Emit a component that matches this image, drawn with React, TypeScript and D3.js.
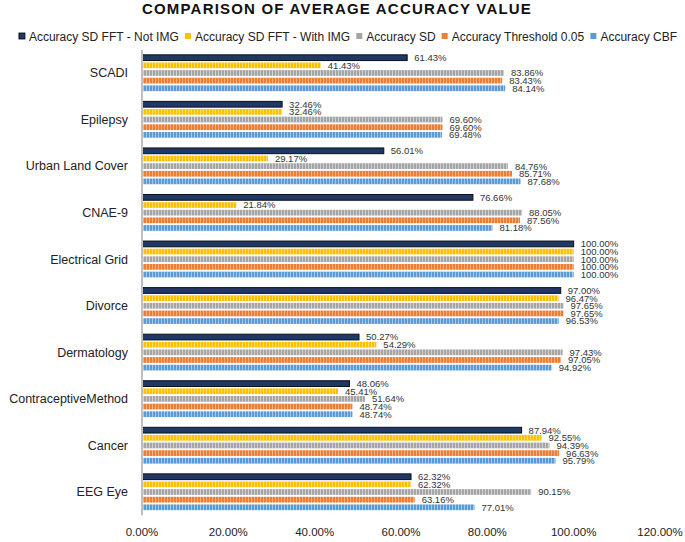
import React from "react";
import * as d3 from "d3";

const categories = ["SCADI", "Epilepsy", "Urban Land Cover", "CNAE-9", "Electrical Grid", "Divorce", "Dermatology", "ContraceptiveMethod", "Cancer", "EEG Eye"];
const seriesNames = ["Accuracy SD FFT - Not IMG", "Accuracy SD FFT - With IMG", "Accuracy SD", "Accuracy Threshold 0.05", "Accuracy CBF"];
const notImg = [61.43, 32.46, 56.01, 76.66, 100, 97.0, 50.27, 48.06, 87.94, 62.32];
const withImg = [41.43, 32.46, 29.17, 21.84, 100, 96.47, 54.29, 45.41, 92.55, 62.32];
const accSD = [83.86, 69.6, 84.76, 88.05, 100, 97.65, 97.43, 51.64, 94.39, 90.15];
const accThr = [83.43, 69.6, 85.71, 87.56, 100, 97.65, 97.05, 48.74, 96.63, 63.16];
const accCBF = [84.14, 69.48, 87.68, 81.18, 100, 96.53, 94.92, 48.74, 95.79, 77.01];
const xTicks = [0, 20, 40, 60, 80, 100, 120];

const seriesValues = [notImg, withImg, accSD, accThr, accCBF];
const baseColors = ["#1F3864", "#FFC000", "#A5A5A5", "#ED7D31", "#5B9BD5"];
const lightColors = ["#1F3864", "#FFDB6E", "#CFCFCF", "#F6AE7C", "#A4C8EB"];

const W = 685, H = 542;
const FONT = "'Liberation Sans', Arial, sans-serif";

function measure(text: string, font: string): number {
  const c = document.createElement("canvas").getContext("2d");
  if (!c) return text.length * 6;
  c.font = font;
  return c.measureText(text).width;
}

export default function App() {
  const x = d3.scaleLinear().domain([0, 120]).range([142, 660]);
  const y = d3.scaleBand<string>().domain(categories).range([49.7, 515.3]).paddingInner(0.22).paddingOuter(0.11);
  const inner = d3.scaleBand<number>().domain(d3.range(seriesNames.length)).range([0, y.bandwidth()]).paddingInner(0.25);

  // legend layout
  const legendFont = `12px ${FONT}`;
  const widths = seriesNames.map((s) => measure(s, legendFont));
  const mk = 7, mgap = 3, igap = 6;
  const total = d3.sum(widths) + seriesNames.length * (mk + mgap) + (seriesNames.length - 1) * igap;
  let lx = 348 - total / 2;
  const legendItems = seriesNames.map((s, i) => {
    const item = { s, i, x: lx };
    lx += mk + mgap + widths[i] + igap;
    return item;
  });

  return (
    <div style={{ position: "absolute", left: 0, top: 0 }}>
      <svg width={W} height={H} style={{ display: "block", background: "#fff" }}>
        <defs>
          {baseColors.map((c, i) => (
            <pattern key={i} id={`pat${i}`} patternUnits="userSpaceOnUse" width={3} height={10}>
              <rect width={3} height={10} fill={c} />
              <rect x={2} width={1} height={10} fill={lightColors[i]} />
            </pattern>
          ))}
        </defs>
        <text x={337} y={14} textAnchor="middle" fontFamily={FONT} fontWeight="bold" fontSize={15} letterSpacing={1.2} fill="#111">
          COMPARISON OF AVERAGE ACCURACY VALUE
        </text>
        {legendItems.map((it) => (
          <g key={it.i}>
            <rect x={it.x} y={33} width={mk - 1} height={mk - 1} fill={baseColors[it.i]} stroke={it.i === 0 ? "#000" : "none"} strokeWidth={0.8} />
            <text x={it.x + mk + mgap} y={40.5} fontFamily={FONT} fontSize={12} fill="#222">
              {it.s}
            </text>
          </g>
        ))}
        {categories.map((cat, ci) => {
          const y0 = y(cat)!;
          return (
            <g key={cat}>
              <text x={128} y={y0 + y.bandwidth() / 2} dy="0.35em" textAnchor="end" fontFamily={FONT} fontSize={12.5} fill="#222">
                {cat}
              </text>
              {seriesValues.map((vals, si) => {
                const by = y0 + inner(si)!;
                const bw = x(vals[ci]) - x(0);
                return (
                  <g key={si}>
                    <rect
                      x={x(0)}
                      y={by}
                      width={bw}
                      height={inner.bandwidth()}
                      fill={si === 0 ? baseColors[0] : `url(#pat${si})`}
                      stroke={si === 0 ? "#0A0F1A" : "none"}
                      strokeWidth={si === 0 ? 1 : 0}
                    />
                    <text x={x(vals[ci]) + 7} y={by + inner.bandwidth() / 2} dy="0.36em" fontFamily={FONT} fontSize={9.5} fill="#333">
                      {vals[ci].toFixed(2) + "%"}
                    </text>
                  </g>
                );
              })}
            </g>
          );
        })}
        <line x1={x(0)} x2={x(0)} y1={49.7} y2={515.3} stroke="#BFBFBF" strokeWidth={2} />
        {xTicks.map((t) => (
          <text key={t} x={x(t)} y={536} textAnchor="middle" fontFamily={FONT} fontSize={11.5} fill="#222">
            {t.toFixed(2) + "%"}
          </text>
        ))}
      </svg>
    </div>
  );
}
